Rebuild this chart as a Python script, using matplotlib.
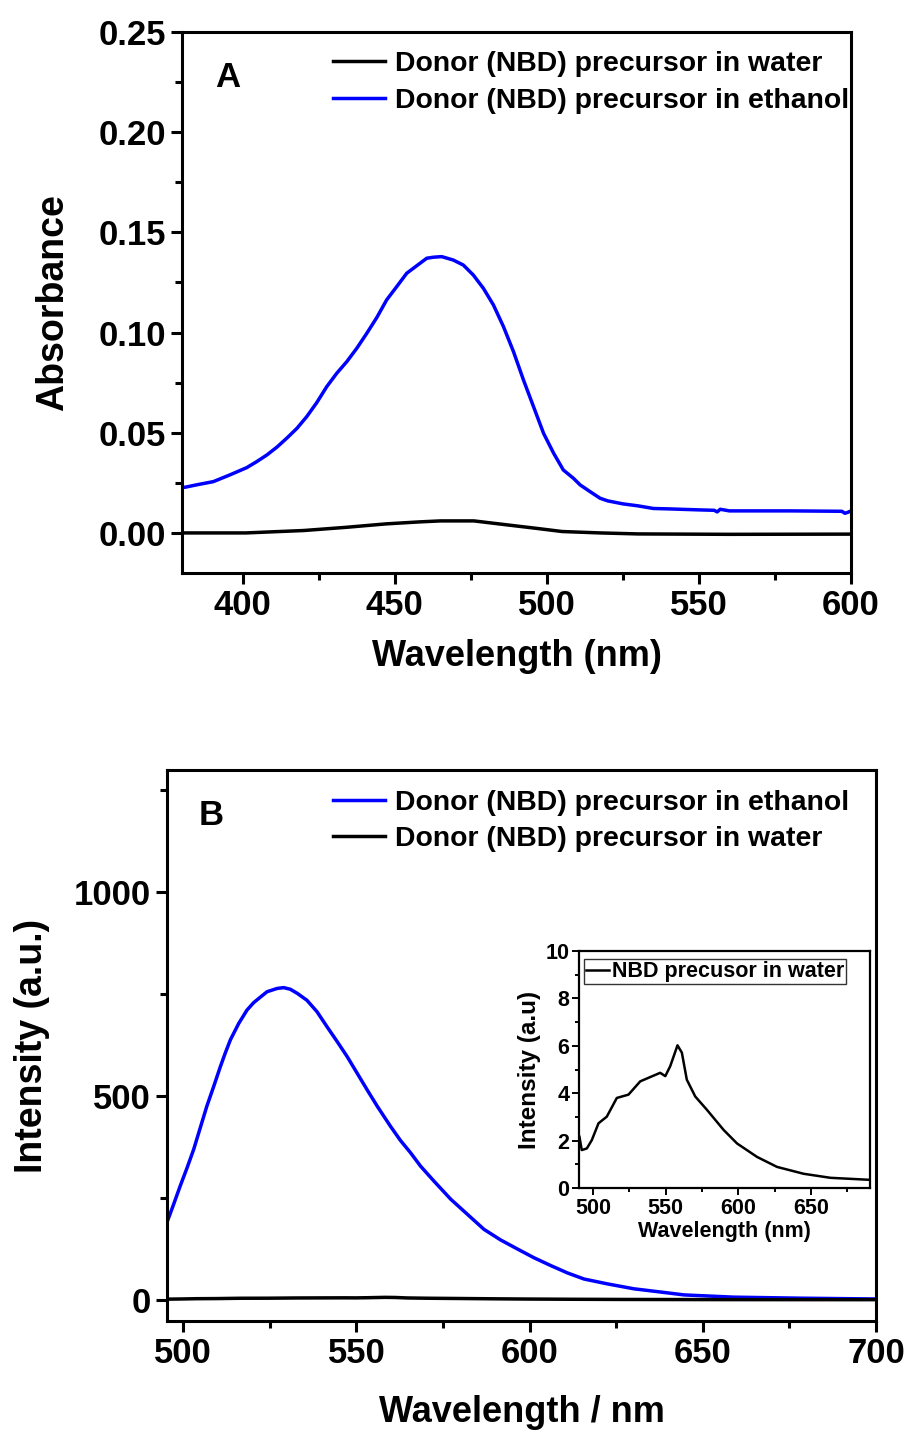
import matplotlib
matplotlib.use("Agg")
import matplotlib.pyplot as plt
from matplotlib.ticker import MultipleLocator, FormatStrFormatter

plt.rcParams['font.family'] = ['Liberation Sans', 'DejaVu Sans']
plt.rcParams['font.weight'] = 'bold'

# ---------------- Panel A: absorbance ----------------
abs_eth_wl = [380, 381, 384.8, 390.3, 395.8, 401.3, 404.6, 407.9, 411.2, 414.4, 417.8, 421,
              424.3, 427.6, 430.9, 434.2, 437.5, 440.8, 444.1, 447.3, 450.6, 453.9, 456.1,
              460.5, 462.7, 465.4, 469.2, 472.5, 475.8, 479.1, 482.4, 485.7, 489, 492.3,
              495.6, 498.9, 502.2, 505.4, 508.7, 510.9, 514.2, 517.5, 520, 525, 530, 535,
              540, 550, 555, 556, 557, 560, 580, 597, 598, 599, 600]
abs_eth = [0.0228, 0.0228, 0.024, 0.0256, 0.029, 0.0326, 0.0356, 0.0389, 0.0428, 0.0472,
           0.0522, 0.058, 0.065, 0.073, 0.0797, 0.0855, 0.0922, 0.0997, 0.1076, 0.1163,
           0.1229, 0.1296, 0.1321, 0.1371, 0.1376, 0.1379, 0.1362, 0.1337, 0.1287, 0.1221,
           0.1138, 0.103, 0.0905, 0.0763, 0.063, 0.0497, 0.0398, 0.0314, 0.0273, 0.024,
           0.0206, 0.0173, 0.016, 0.0145, 0.0135, 0.0122, 0.012, 0.0115, 0.0113, 0.0105,
           0.0118, 0.011, 0.011, 0.0108, 0.0098, 0.0103, 0.011]

abs_wat_wl = [380, 401, 420, 434, 447, 458, 465, 476, 487, 497, 505, 517.5, 530, 560, 600]
abs_wat = [0.0, 0.0, 0.0012, 0.0028, 0.0045, 0.0055, 0.006, 0.006, 0.004, 0.0022, 0.0007,
           0.0, -0.0005, -0.0007, -0.0006]

# ---------------- Panel B: emission ----------------
em_eth_wl = [495.3, 497.2, 499.1, 501.1, 503, 504.9, 506.8, 508.8, 510.7, 512.1, 513.6,
             516, 518.4, 520.3, 522.3, 524.2, 527.1, 529, 530.9, 532.9, 535.7, 538.6,
             541.5, 544.4, 547.3, 550.2, 553.1, 556, 559.8, 562.7, 565.6, 568.5, 572.4,
             577.2, 582, 586.8, 591.6, 596.4, 601.3, 606.1, 610.9, 615.7, 622.5, 630.1,
             637.9, 644.6, 659, 678.3, 700]
em_eth = [190, 234, 279, 324, 369, 422, 475, 524, 572, 605, 638,
          678, 711, 729, 743, 756, 764, 766, 762, 752, 735, 707,
          670, 634, 597, 556, 515, 475, 426, 391, 361, 328, 291,
          247, 210, 173, 147, 125, 103, 84, 66, 51, 39, 27,
          19, 12, 6.5, 4, 2]

em_wat_wl = [490.8, 492.4, 495.9, 499.3, 503.9, 509.6, 516.5, 524.5, 532.6, 541.7, 546.3,
             549.8, 553.2, 558.2, 561.2, 564.6, 570.4, 578.4, 589.9, 599.1, 612.9, 626.6,
             644.9, 663.3, 688.6, 700]
em_wat = [2.16, 1.6, 1.67, 2.02, 2.73, 3.01, 3.80, 3.94, 4.50, 4.74, 4.86,
          4.72, 5.14, 6.02, 5.71, 4.57, 3.86, 3.30, 2.45, 1.88, 1.31, 0.89,
          0.60, 0.43, 0.35, 0.33]

BLUE = '#0000ff'

fig = plt.figure(figsize=(9.12, 14.32), dpi=100)

def style_axes(ax, lw=2.2, tick_fs=25, major=8, minor=5):
    for s in ax.spines.values():
        s.set_linewidth(lw)
    ax.tick_params(which='both', width=lw, labelsize=tick_fs, direction='out')
    ax.tick_params(which='major', length=major)
    ax.tick_params(which='minor', length=minor)
    for lab in ax.get_xticklabels() + ax.get_yticklabels():
        lab.set_fontweight('bold')

# Panel A
axA = fig.add_axes([182/912, 1-573/1432, 669/912, 541/1432])
axA.plot(abs_wat_wl, abs_wat, color='black', lw=2.5, label='Donor (NBD) precursor in water')
axA.plot(abs_eth_wl, abs_eth, color=BLUE, lw=2.5, label='Donor (NBD) precursor in ethanol')
axA.set_xlim(380, 600)
axA.set_ylim(-0.02, 0.25)
axA.xaxis.set_major_locator(MultipleLocator(50))
axA.xaxis.set_minor_locator(MultipleLocator(25))
axA.yaxis.set_major_locator(MultipleLocator(0.05))
axA.yaxis.set_minor_locator(MultipleLocator(0.025))
axA.yaxis.set_major_formatter(FormatStrFormatter('%.2f'))
style_axes(axA)
axA.set_xlabel('Wavelength (nm)', fontsize=26, fontweight='bold', labelpad=12)
axA.set_ylabel('Absorbance', fontsize=27, fontweight='bold', labelpad=20)
axA.text(0.05, 0.915, 'A', transform=axA.transAxes, fontsize=25, fontweight='bold',
         ha='left', va='center')
legA = axA.legend(loc='upper left', bbox_to_anchor=((333-182)/669, 1-(51-32)/541),
                  frameon=False, fontsize=20.4, handlelength=1.83, handletextpad=0.35,
                  borderaxespad=0, borderpad=0, labelspacing=0.40)
for t in legA.get_texts():
    t.set_fontweight('bold')

# Panel B
axB = fig.add_axes([167/912, 1-1321/1432, 709/912, 551/1432])
axB.plot(em_eth_wl, em_eth, color=BLUE, lw=2.5, label='Donor (NBD) precursor in ethanol')
axB.plot(em_wat_wl, em_wat, color='black', lw=2.5, label='Donor (NBD) precursor in water')
axB.set_xlim(495.3, 700)
axB.set_ylim(-52, 1300)
axB.xaxis.set_major_locator(MultipleLocator(50))
axB.xaxis.set_minor_locator(MultipleLocator(25))
axB.yaxis.set_major_locator(MultipleLocator(500))
axB.yaxis.set_minor_locator(MultipleLocator(250))
style_axes(axB)
axB.set_xlabel('Wavelength / nm', fontsize=26, fontweight='bold', labelpad=18)
axB.set_ylabel('Intensity (a.u.)', fontsize=27, fontweight='bold', labelpad=17)
axB.text(0.045, 0.918, 'B', transform=axB.transAxes, fontsize=25, fontweight='bold',
         ha='left', va='center')
legB = axB.legend(loc='upper left', bbox_to_anchor=((333-167)/709, 1-(790-770)/551),
                  frameon=False, fontsize=20.4, handlelength=1.83, handletextpad=0.35,
                  borderaxespad=0, borderpad=0, labelspacing=0.34)
for t in legB.get_texts():
    t.set_fontweight('bold')

# Inset
axI = fig.add_axes([579/912, 1-1188/1432, 291/912, 237/1432])
axI.plot(em_wat_wl, em_wat, color='black', lw=1.8, label='NBD precusor in water')
axI.set_xlim(490.5, 690.5)
axI.set_ylim(0, 10)
axI.xaxis.set_major_locator(MultipleLocator(50))
axI.xaxis.set_minor_locator(MultipleLocator(25))
axI.yaxis.set_major_locator(MultipleLocator(2))
axI.yaxis.set_minor_locator(MultipleLocator(1))
for s in axI.spines.values():
    s.set_linewidth(1.6)
axI.tick_params(which='both', width=1.4, labelsize=15.5, direction='out', pad=2)
axI.tick_params(which='major', length=5)
axI.tick_params(which='minor', length=3)
for lab in axI.get_xticklabels() + axI.get_yticklabels():
    lab.set_fontweight('bold')
axI.set_xlabel('Wavelength (nm)', fontsize=15.5, fontweight='bold', labelpad=2)
axI.set_ylabel('Intensity (a.u)', fontsize=17.5, fontweight='bold', labelpad=3)
legI = axI.legend(loc='upper left', bbox_to_anchor=(0.017, 0.966), frameon=True,
                  fancybox=False, edgecolor='black', fontsize=15.5, handlelength=1.05,
                  handletextpad=0.15, borderaxespad=0, borderpad=0.1)
legI.get_frame().set_linewidth(1.0)
for t in legI.get_texts():
    t.set_fontweight('bold')

fig.savefig('out.png', dpi=100)
